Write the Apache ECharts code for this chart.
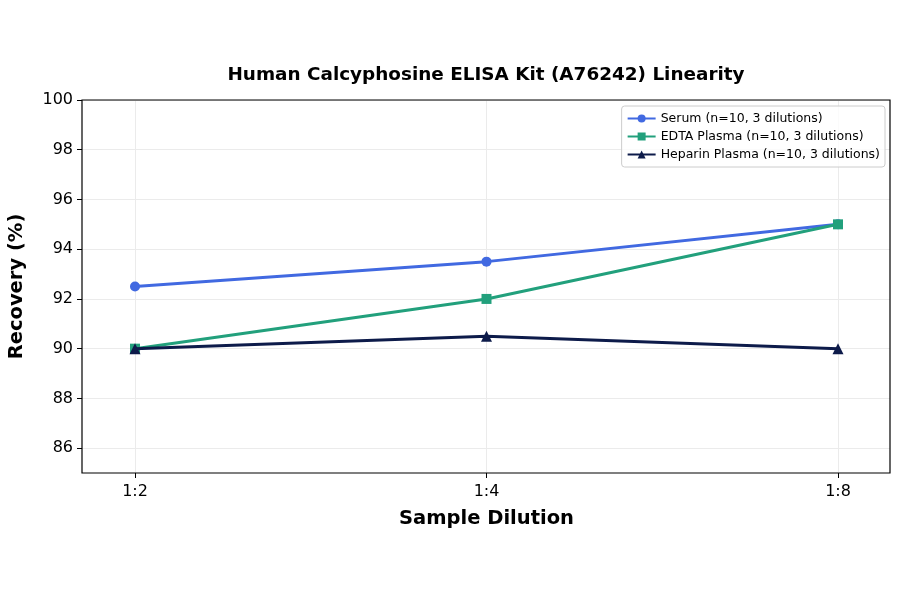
<!DOCTYPE html>
<html>
<head>
<meta charset="utf-8">
<script src="https://cdn.jsdelivr.net/npm/echarts@6/dist/echarts.min.js"></script>
<style>
  html, body { margin: 0; padding: 0; background: #fff; }
  #chart { width: 900px; height: 594px; }
</style>
</head>
<body>
<div id="chart"></div>
<script>
// data
var dilutions = ['1:2', '1:4', '1:8']
var serum = [92.5, 93.5, 95]
var edtaPlasma = [90, 92, 95]
var heparinPlasma = [90, 90.5, 90]
var yTicks = [86, 88, 90, 92, 94, 96, 98, 100]

var font = 'DejaVu Sans'
var chart = echarts.init(document.getElementById('chart'))

// plot box 82..890 x 100..473; y range 85..100, labels from 86 every 2
var box = { left: 82, right: 10, top: 100, bottom: 121 }
var tickGridBottom = box.bottom + (594 - box.top - box.bottom) * (yTicks[0] - 85) / (100 - 85)

chart.setOption({
  animation: false,
  textStyle: { fontFamily: font },
  title: {
    text: 'Human Calcyphosine ELISA Kit (A76242) Linearity',
    left: 481, top: 61, textAlign: 'center',
    textStyle: { fontFamily: font, fontSize: 18.4, fontWeight: 'bold', color: '#000' }
  },
  legend: {
    orient: 'vertical', right: 15, top: 106,
    itemWidth: 28, itemHeight: 10, itemGap: 5,
    padding: [6, 5, 6, 5],
    borderColor: '#ccc', borderWidth: 1, borderRadius: 3,
    backgroundColor: 'rgba(255,255,255,0.8)',
    textStyle: { fontFamily: font, fontSize: 12.5, color: '#000' }
  },
  grid: [
    // frame
    { left: box.left, right: box.right, top: box.top, bottom: box.bottom, outerBoundsMode: 'none',
      show: true, borderColor: '#000', borderWidth: 1.2, backgroundColor: 'transparent', z: 5 },
    // data (x points padded inside the frame)
    { left: 135, right: 62, top: box.top, bottom: box.bottom, outerBoundsMode: 'none' },
    // y ticks / grid lines
    { left: box.left, right: box.right, top: box.top, bottom: tickGridBottom, outerBoundsMode: 'none' }
  ],
  xAxis: [
    { gridIndex: 0, type: 'value', min: 0, max: 1, show: false },
    {
      gridIndex: 1, type: 'category', data: dilutions, boundaryGap: false,
      name: 'Sample Dilution', nameLocation: 'middle', nameGap: 36,
      nameTextStyle: { fontFamily: font, fontSize: 19.5, fontWeight: 'bold', color: '#000' },
      axisLine: { show: false },
      axisTick: { show: true, length: 5, lineStyle: { color: '#000' } },
      axisLabel: { fontFamily: font, fontSize: 16, color: '#000', margin: 11 },
      splitLine: { show: true, lineStyle: { color: '#ebebeb', width: 1 } }
    },
    { gridIndex: 2, type: 'value', min: 0, max: 1, show: false }
  ],
  yAxis: [
    {
      gridIndex: 0, type: 'value', min: 0, max: 1,
      name: 'Recovery (%)', nameLocation: 'middle', nameGap: 55, nameRotate: 90,
      nameTextStyle: { fontFamily: font, fontSize: 19.5, fontWeight: 'bold', color: '#000' },
      axisLine: { show: false }, axisTick: { show: false },
      axisLabel: { show: false }, splitLine: { show: false }
    },
    { gridIndex: 1, type: 'value', min: 85, max: 100, show: false },
    {
      gridIndex: 2, type: 'value', min: yTicks[0], max: 100, interval: 2,
      axisLine: { show: false },
      axisTick: { show: true, length: 5, lineStyle: { color: '#000' } },
      axisLabel: { fontFamily: font, fontSize: 16, color: '#000', margin: 9 },
      splitLine: { show: true, lineStyle: { color: '#ebebeb', width: 1 } }
    }
  ],
  series: [
    {
      name: 'Serum (n=10, 3 dilutions)', type: 'line', xAxisIndex: 1, yAxisIndex: 1,
      data: serum, symbol: 'circle', symbolSize: 10,
      lineStyle: { width: 3, color: '#4169e1' }, itemStyle: { color: '#4169e1' }, z: 10
    },
    {
      name: 'EDTA Plasma (n=10, 3 dilutions)', type: 'line', xAxisIndex: 1, yAxisIndex: 1,
      data: edtaPlasma, symbol: 'rect', symbolSize: 10,
      lineStyle: { width: 3, color: '#22a07c' }, itemStyle: { color: '#22a07c' }, z: 11
    },
    {
      name: 'Heparin Plasma (n=10, 3 dilutions)', type: 'line', xAxisIndex: 1, yAxisIndex: 1,
      data: heparinPlasma, symbol: 'triangle', symbolSize: 11,
      lineStyle: { width: 3, color: '#0d1b4a' }, itemStyle: { color: '#0d1b4a' }, z: 12
    }
  ]
})
</script>
</body>
</html>
